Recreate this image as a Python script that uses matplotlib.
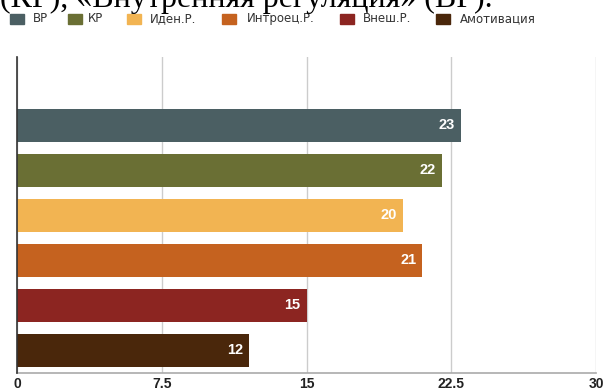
import matplotlib
matplotlib.use("Agg")
import matplotlib.pyplot as plt
from matplotlib.patches import Rectangle

categories = ["ВР", "КР", "Иден.Р.", "Интроец.Р.", "Внеш.Р.", "Амотивация"]
values = [23, 22, 20, 21, 15, 12]
colors = ["#4b5f63", "#6a6f34", "#f2b452", "#c5621f", "#8c2521", "#4a270b"]
xticks = [0, 7.5, 15, 22.5, 30]
xtick_labels = ["0", "7.5", "15", "22.5", "30"]
header = "(КР), «Внутренняя регуляция» (ВР)."

W, H = 603, 392
fig = plt.figure(figsize=(W / 100, H / 100), dpi=100)

# axes placement in pixels
L, R, T, B = 17, 596, 57, 373
ax = fig.add_axes([L / W, 1 - B / H, (R - L) / W, (B - T) / H])

ypos = list(range(len(values)))
ax.barh(ypos, values, height=0.74, color=colors, zorder=3)
for y, v in zip(ypos, values):
    ax.text(v - 0.3, y, str(v), ha="right", va="center", color="white",
            fontsize=10.5, fontweight="bold", family="Liberation Sans", zorder=4)

ax.set_xlim(0, 30)
ax.set_ylim(5.5, -1.52)
ax.set_xticks(xticks)
ax.set_xticklabels(xtick_labels)
ax.set_yticks([])
ax.tick_params(axis="x", length=0, pad=3, labelsize=10, colors="#222222")
for lab in ax.get_xticklabels():
    lab.set_fontweight("bold")
    lab.set_family("Liberation Sans")
ax.grid(axis="x", color="#cccccc", linewidth=1, zorder=0)
for s in ["top", "right"]:
    ax.spines[s].set_visible(False)
ax.spines["left"].set_color("#333333")
ax.spines["left"].set_linewidth(1.2)
ax.spines["bottom"].set_color("#aaaaaa")
ax.spines["bottom"].set_linewidth(1.2)
ax.spines["left"].set_zorder(5)

# legend (manual, figure pixel coords)
sq_x = [10, 68, 127, 222, 340, 436]
txt_x = [33, 88, 150, 247, 363, 460]
ly = 18.5
for c, lab, sx, tx in zip(colors, categories, sq_x, txt_x):
    fig.patches.append(Rectangle((sx / W, 1 - (ly + 5) / H), 14 / W, 10 / H,
                                 transform=fig.transFigure, color=c))
    fig.text(tx / W, 1 - ly / H, lab, ha="left", va="center", fontsize=8.5,
             family="DejaVu Sans", color="#333333")

# header text cut at the top
fig.text(0, 1 - 6.5 / H, header, ha="left", va="baseline", fontsize=23,
         family="Liberation Serif", color="black")

fig.savefig("out.png", dpi=100)
